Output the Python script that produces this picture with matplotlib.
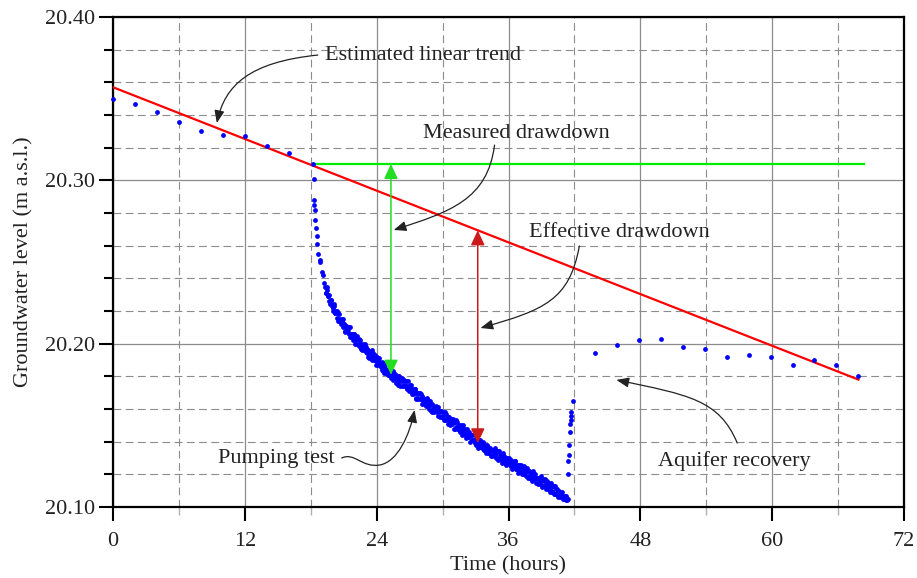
import numpy as np
import matplotlib
matplotlib.use('Agg')
import matplotlib.pyplot as plt
from matplotlib.patches import FancyArrowPatch
from matplotlib.path import Path
from matplotlib.ticker import MultipleLocator, FormatStrFormatter

plt.rcParams['font.family'] = ['Liberation Serif', 'DejaVu Serif']

# groundwater level before pumping (every 2 h)
pre_t = [0, 2, 4, 6, 8, 10, 12, 14, 16]
pre_h = [20.350, 20.347, 20.342, 20.336, 20.330, 20.328, 20.327, 20.321, 20.317]

# start of pumping, fast drop
early_t = [18.24, 18.30, 18.30, 18.33, 18.36, 18.43, 18.48, 18.55, 18.61,
           18.70, 18.82, 18.88, 19.06, 19.12, 19.18]
early_h = [20.310, 20.301, 20.288, 20.285, 20.282, 20.276, 20.271, 20.266, 20.261,
           20.255, 20.251, 20.250, 20.244, 20.242, 20.237]

# logger readings during pumping, every 0.1 h from 19.3 h to 41.4 h
pump_start, pump_step = 19.3, 0.1
pump_h = [
    20.235, 20.231, 20.233, 20.229, 20.226, 20.227, 20.223,
    20.222, 20.223, 20.219, 20.220, 20.216, 20.219, 20.214, 20.214, 20.215, 20.210,
    20.212, 20.208, 20.211, 20.209, 20.207, 20.210, 20.204, 20.206, 20.204, 20.206,
    20.202, 20.204, 20.202, 20.199, 20.203, 20.198, 20.200, 20.196, 20.199, 20.197,
    20.198, 20.194, 20.196, 20.191, 20.195, 20.193, 20.190, 20.194, 20.190, 20.191,
    20.188, 20.190, 20.191, 20.187, 20.187, 20.184, 20.188, 20.182, 20.185, 20.184,
    20.184, 20.181, 20.184, 20.179, 20.181, 20.183, 20.179, 20.180, 20.176, 20.180,
    20.177, 20.179, 20.177, 20.174, 20.177, 20.178, 20.174, 20.174, 20.172, 20.174,
    20.175, 20.171, 20.169, 20.172, 20.170, 20.172, 20.167, 20.170, 20.167, 20.170,
    20.166, 20.168, 20.165, 20.163, 20.165, 20.163, 20.166, 20.162, 20.160, 20.163,
    20.163, 20.159, 20.161, 20.159, 20.162, 20.159, 20.156, 20.159, 20.156, 20.159,
    20.155, 20.157, 20.153, 20.157, 20.154, 20.151, 20.154, 20.152, 20.154, 20.152,
    20.152, 20.148, 20.153, 20.149, 20.148, 20.150, 20.146, 20.148, 20.146, 20.148,
    20.144, 20.146, 20.145, 20.146, 20.143, 20.140, 20.144, 20.144, 20.141, 20.141,
    20.142, 20.138, 20.140, 20.137, 20.141, 20.138, 20.136, 20.138, 20.135, 20.138,
    20.135, 20.137, 20.133, 20.135, 20.135, 20.131, 20.135, 20.133, 20.132, 20.133,
    20.134, 20.130, 20.132, 20.129, 20.130, 20.133, 20.128, 20.127, 20.130, 20.128,
    20.127, 20.129, 20.125, 20.127, 20.126, 20.125, 20.128, 20.123, 20.125, 20.123,
    20.126, 20.122, 20.124, 20.120, 20.125, 20.122, 20.119, 20.122, 20.119, 20.122,
    20.118, 20.120, 20.119, 20.120, 20.117, 20.115, 20.118, 20.117, 20.118, 20.115,
    20.116, 20.113, 20.116, 20.113, 20.114, 20.116, 20.111, 20.113, 20.111, 20.113,
    20.110, 20.113, 20.108, 20.111, 20.108, 20.109, 20.110, 20.106, 20.108, 20.106,
    20.107, 20.105, 20.107, 20.104, 20.105,
]
pump_t = pump_start + pump_step * np.arange(len(pump_h))

# second logger channel, offset by half a step (19.35 h to 41.35 h)
pump2_start = 19.35
pump2_h = [
    20.231, 20.235, 20.229, 20.230, 20.224, 20.227, 20.224,
    20.220, 20.224, 20.219, 20.220, 20.214, 20.218, 20.215, 20.212, 20.214, 20.215,
    20.212, 20.207, 20.211, 20.209, 20.206, 20.210, 20.205, 20.206, 20.202, 20.206,
    20.200, 20.203, 20.205, 20.200, 20.202, 20.197, 20.199, 20.200, 20.196, 20.200,
    20.195, 20.197, 20.192, 20.195, 20.191, 20.196, 20.192, 20.190, 20.193, 20.187,
    20.192, 20.187, 20.189, 20.186, 20.189, 20.183, 20.186, 20.187, 20.182, 20.184,
    20.181, 20.183, 20.185, 20.180, 20.178, 20.182, 20.180, 20.181, 20.178, 20.175,
    20.180, 20.174, 20.178, 20.179, 20.174, 20.175, 20.177, 20.173, 20.177, 20.171,
    20.172, 20.175, 20.172, 20.169, 20.172, 20.166, 20.170, 20.166, 20.170, 20.166,
    20.169, 20.163, 20.167, 20.166, 20.162, 20.167, 20.162, 20.165, 20.165, 20.159,
    20.158, 20.161, 20.158, 20.161, 20.158, 20.161, 20.159, 20.155, 20.159, 20.155,
    20.158, 20.153, 20.158, 20.153, 20.155, 20.155, 20.150, 20.154, 20.151, 20.154,
    20.148, 20.152, 20.149, 20.152, 20.147, 20.149, 20.150, 20.144, 20.150, 20.145,
    20.148, 20.142, 20.148, 20.143, 20.146, 20.144, 20.141, 20.141, 20.145, 20.139,
    20.138, 20.142, 20.136, 20.140, 20.137, 20.138, 20.140, 20.135, 20.137, 20.133,
    20.138, 20.133, 20.136, 20.136, 20.131, 20.134, 20.132, 20.136, 20.130, 20.134,
    20.129, 20.134, 20.130, 20.131, 20.127, 20.131, 20.130, 20.126, 20.130, 20.127,
    20.130, 20.126, 20.129, 20.123, 20.127, 20.128, 20.123, 20.126, 20.121, 20.126,
    20.122, 20.126, 20.120, 20.124, 20.121, 20.122, 20.124, 20.118, 20.122, 20.118,
    20.121, 20.116, 20.122, 20.117, 20.120, 20.118, 20.114, 20.118, 20.114, 20.119,
    20.112, 20.117, 20.113, 20.117, 20.111, 20.112, 20.115, 20.109, 20.115, 20.109,
    20.113, 20.108, 20.113, 20.108, 20.111, 20.106, 20.109, 20.107, 20.109, 20.105,
    20.105, 20.107, 20.104, 20.105,
]
pump2_t = pump2_start + pump_step * np.arange(len(pump2_h))

# pump stopped: quick rise
rise_t = [41.45, 41.45, 41.48, 41.52, 41.58, 41.64, 41.67, 41.73, 41.73, 41.88]
rise_h = [20.120, 20.128, 20.132, 20.138, 20.146, 20.151, 20.153, 20.156, 20.158, 20.165]

# recovery (every 2 h)
rec_t = [43.9, 45.9, 47.9, 49.9, 51.9, 53.9, 55.9, 57.9, 59.9, 61.9, 63.8, 65.8, 67.8]
rec_h = [20.194, 20.199, 20.202, 20.203, 20.198, 20.197, 20.192, 20.193, 20.192,
         20.187, 20.190, 20.187, 20.180]

# linear trend and static level
trend_t = [0, 67.85]
trend_h = [20.357, 20.178]
static_t = [18.2, 68.4]
static_h = [20.310, 20.310]

meas_t, meas_top, meas_bot = 25.3, 20.310, 20.181
eff_t, eff_top, eff_bot = 33.2, 20.2694, 20.139

fig = plt.figure(figsize=(9.17, 5.78), dpi=100)
ax = fig.add_axes([113/917, 71/578, 791/917, 490/578])

ax.set_xlim(0, 72)
ax.set_ylim(20.10, 20.40)
ax.xaxis.set_major_locator(MultipleLocator(12))
ax.xaxis.set_minor_locator(MultipleLocator(6))
ax.yaxis.set_major_locator(MultipleLocator(0.1))
ax.yaxis.set_minor_locator(MultipleLocator(0.02))
ax.yaxis.set_major_formatter(FormatStrFormatter('%.2f'))

ax.grid(which='major', color='#8c8c8c', lw=0.9, ls='-')
ax.grid(which='minor', color='#8c8c8c', lw=0.8, ls=(0, (7, 4)))
ax.set_axisbelow(True)

for s in ax.spines.values():
    s.set_linewidth(1.6)
ax.tick_params(which='major', length=10, width=1.5, labelsize=16, color='black',
               labelcolor='#222222', pad=3, top=False, right=False)
ax.tick_params(axis='x', which='major', pad=8)
ax.tick_params(axis='y', which='minor', length=6.5, width=1.5, right=False)
ax.tick_params(axis='x', which='minor', length=6, width=1.0, color='#b0b0b0', top=False)

ax.set_xlabel('Time (hours)', fontsize=16, color='#222222', labelpad=4)
ax.set_ylabel('Groundwater level (m a.s.l.)', fontsize=16, color='#222222', labelpad=8)

# lines
ax.plot(static_t, static_h, color='#00ee00', lw=1.6, zorder=3)
ax.plot(trend_t, trend_h, color='#ff0000', lw=1.6, zorder=4)

# data points
dot = dict(s=12, color='#0000ff', linewidths=0, zorder=5, clip_on=False)
ax.scatter(pre_t, pre_h, **dot)
ax.scatter(early_t, early_h, **dot)
ax.scatter(pump_t, pump_h, **dot)
ax.scatter(pump2_t, pump2_h, **dot)
ax.scatter(rise_t, rise_h, **dot)
ax.scatter(rec_t, rec_h, **dot)

# drawdown arrows
ax.add_patch(FancyArrowPatch((meas_t, meas_top), (meas_t, meas_bot),
                             arrowstyle='<|-|>,head_length=0.9,head_width=0.42',
                             mutation_scale=10, color='#22dd22', lw=1.1,
                             shrinkA=0, shrinkB=0, zorder=6))
ax.add_patch(FancyArrowPatch((eff_t, eff_top), (eff_t, eff_bot),
                             arrowstyle='<|-|>,head_length=0.9,head_width=0.42',
                             mutation_scale=10, color='#cc1a1a', lw=1.1,
                             shrinkA=0, shrinkB=0, zorder=6))

# labels with curved leaders
txt = dict(fontsize=16, color='#222222', va='baseline', zorder=7)
head = '-|>,head_length=0.75,head_width=0.3'


def leader(pts):
    codes = [Path.MOVETO] + [Path.CURVE4] * (len(pts) - 1)
    ax.add_patch(FancyArrowPatch(path=Path(pts, codes), arrowstyle=head,
                                 mutation_scale=10, color='#222222', lw=0.9,
                                 zorder=7))


ax.text(19.3, 20.3737, 'Estimated linear trend', ha='left', **txt)
leader([(18.64, 20.3767), (12.45, 20.3724), (10.18, 20.3584), (9.45, 20.3351)])

ax.text(28.2, 20.3257, 'Measured drawdown', ha='left', **txt)
leader([(34.73, 20.3216), (34.09, 20.2880), (30.64, 20.2806), (25.55, 20.2696)])

ax.text(37.85, 20.2655, 'Effective drawdown', ha='left', **txt)
leader([(42.45, 20.2598), (41.55, 20.2267), (39.27, 20.2206), (33.45, 20.2096)])

ax.text(20.2, 20.1267, 'Pumping test', ha='right', **txt)
leader([(20.82, 20.1300), (22.0, 20.1337), (22.64, 20.1239), (24.27, 20.1257),
        (25.91, 20.1276), (27.0, 20.1441), (27.45, 20.1594)])

ax.text(49.57, 20.1253, 'Aquifer recovery', ha='left', **txt)
leader([(56.82, 20.1392), (55.18, 20.1655), (52.45, 20.1686), (45.82, 20.1778)])

fig.savefig('out.png', dpi=100)
